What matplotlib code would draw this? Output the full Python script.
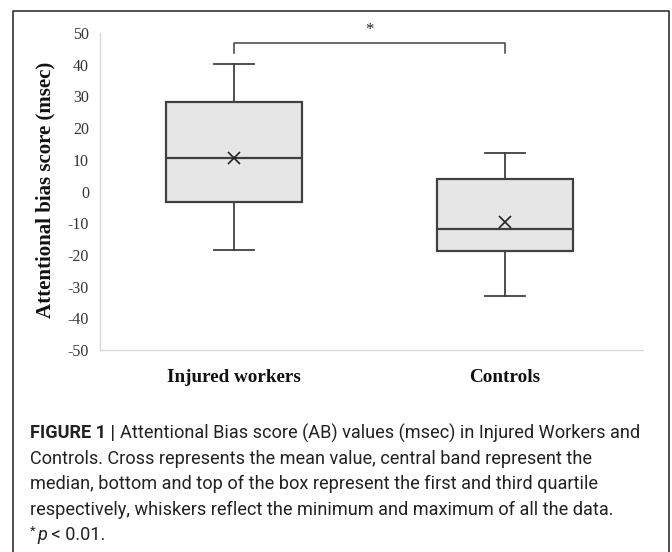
import matplotlib
matplotlib.use("Agg")
import matplotlib.pyplot as plt
from matplotlib.lines import Line2D

# box statistics (msec)
groups = ["Injured workers", "Controls"]
mins = [-18.6, -33.0]
q1s = [-3.2, -18.7]
medians = [10.7, -11.7]
q3s = [28.2, 4.0]
maxs = [40.3, 12.2]
means = [10.7, -9.5]

yticks = [50, 40, 30, 20, 10, 0, -10, -20, -30, -40, -50]

caption = [
    "Attentional Bias score (AB) values (msec) in Injured Workers and",
    "Controls. Cross represents the mean value, central band represent the",
    "median, bottom and top of the box represent the first and third quartile",
    "respectively, whiskers reflect the minimum and maximum of all the data.",
]

W, H = 672, 552
fig = plt.figure(figsize=(W / 100, H / 100), dpi=100)
ax = fig.add_axes([100 / W, 1 - 350 / H, (642 - 100) / W, (350 - 33) / H])

stats = []
for i in range(len(groups)):
    stats.append(dict(whislo=mins[i], q1=q1s[i], med=medians[i], q3=q3s[i],
                      whishi=maxs[i], mean=means[i], label=groups[i]))

edge = "#404040"
ax.bxp(stats, positions=[1, 2], widths=0.5, showmeans=True, patch_artist=True,
       showfliers=False,
       boxprops=dict(facecolor="#e6e6e6", edgecolor=edge, linewidth=1.6),
       medianprops=dict(color=edge, linewidth=1.6),
       whiskerprops=dict(color=edge, linewidth=1.3),
       capprops=dict(color=edge, linewidth=1.3),
       capwidths=0.15,
       meanprops=dict(marker="x", markeredgecolor="#222222", markersize=9,
                      markeredgewidth=1.2))

ax.set_xlim(0.5055, 2.5055)
ax.set_ylim(-50, 50)
ax.set_yticks(yticks)
ax.tick_params(length=0)
ax.set_yticklabels([str(t) for t in yticks], family="Liberation Serif",
                   fontsize=11.5, color="#333333")
ax.set_xticklabels(groups, family="Liberation Serif", fontsize=13.8,
                   fontweight="bold", color="#111111")
ax.tick_params(axis="x", pad=14)
ax.tick_params(axis="y", pad=8)
for s in ["top", "right"]:
    ax.spines[s].set_visible(False)
for s in ["left", "bottom"]:
    ax.spines[s].set_color("#d9d9d9")
    ax.spines[s].set_linewidth(1.0)

fig.text(45 / W, 1 - 190 / H, "Attentional bias score (msec)", rotation=90,
         ha="center", va="center", family="Liberation Serif", fontsize=15,
         fontweight="bold", color="#111111")

# significance bracket
ax.plot([1, 1, 2, 2], [43.6, 47, 47, 43.6], color=edge, linewidth=1.1,
        clip_on=False)
ax.text(1.5, 48.5, "*", ha="center", va="bottom", family="Liberation Serif",
        fontsize=12, color="#222222")

# outer frame
frame_x = [13 / W, 13 / W, 669 / W, 669 / W]
frame_y = [0, 1 - 11 / H, 1 - 11 / H, 0]
fig.add_artist(Line2D(frame_x, frame_y, color="#333333", linewidth=1.2))

# caption
cap_font = dict(family="Roboto", fontsize=13.1, color="#222222")
line_y = [433, 459, 484, 510, 535]
t0 = fig.text(30 / W, 1 - line_y[0] / H, "FIGURE 1 | ", fontweight="bold",
              va="center", **cap_font)
ax.annotate(caption[0], xy=(1, 0.5), xycoords=t0, va="center", ha="left",
            **cap_font)
for k in range(1, 4):
    fig.text(30 / W, 1 - line_y[k] / H, caption[k], va="center", **cap_font)
t1 = fig.text(30 / W, 1 - (line_y[4] - 4) / H, "*", va="center",
              family="Roboto", fontsize=9.5, color="#222222")
t2 = ax.annotate("p", xy=(1, 0.5), xycoords=t1, xytext=(1, -3),
                 textcoords="offset points", va="center", ha="left",
                 style="italic", **cap_font)
ax.annotate(" < 0.01.", xy=(1, 0.5), xycoords=t2, va="center", ha="left",
            **cap_font)

fig.savefig("out.png", dpi=100)
